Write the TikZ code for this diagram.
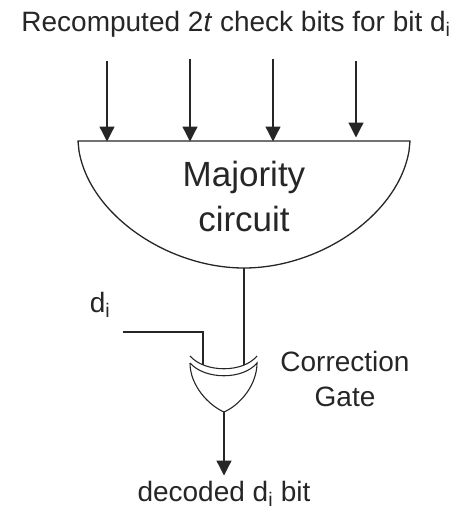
\documentclass[tikz,border=0pt]{standalone}
\usepackage{fontspec}
\setmainfont{Liberation Sans}
\usepackage{tikz}
\usetikzlibrary{arrows.meta}
\tikzset{
	wire/.style={draw=black!85, line width=1.3pt},
	inarrow/.style={wire, -{Triangle[length=15pt,width=15pt]}, shorten >=-0.5pt},
	caption/.style={text=black!85, font=\fontsize{28}{34}\selectfont, inner sep=0pt},
	gate/.style={draw=black!85, line width=1.1pt}
}
\begin{document}
\begin{tikzpicture}[x=1pt,y=-1pt]
		\useasboundingbox (0,0) rectangle (468,508);
		\node[caption] (title) at (236,24) {Recomputed 2\textit{t} check bits for bit d\textsubscript{i}};
		\coordinate (inA) at (107,61);
		\coordinate (inB) at (190,59);
		\coordinate (inC) at (273,59);
		\coordinate (inD) at (356,61);
		\coordinate (tipA) at (107,141);
		\coordinate (tipB) at (190,141);
		\coordinate (tipC) at (273,141);
		\coordinate (tipD) at (356,137);
		\draw[inarrow] (inA) -- (tipA);
		\draw[inarrow] (inB) -- (tipB);
		\draw[inarrow] (inC) -- (tipC);
		\draw[inarrow] (inD) -- (tipD);
		\coordinate (majleft) at (78,141);
		\coordinate (majright) at (410,141);
		\coordinate (majout) at (244,268);
		\draw[wire] (majleft) -- (majright) -- ++(-1,10) .. controls (398,215) and (320,268) .. (majout)
			.. controls (168,268) and (90,215) .. (79,151) -- cycle;
		\node[caption, font=\fontsize{35}{40}\selectfont] (majority) at (244,177) {Majority};
		\node[caption, font=\fontsize{35}{40}\selectfont] (circuit) at (244,219) {circuit};
		\node[caption] (di) at (100,305) {d\textsubscript{i}};
		\coordinate (distart) at (123,332);
		\coordinate (dibend) at (203,332);
		\coordinate (diend) at (203,365);
		\coordinate (majend) at (244,365);
		\draw[wire] (distart) -- (dibend) -- (diend);
		\draw[wire] (majout) -- (majend);
		% gate outline
		\coordinate (gateleft) at (190,363);
		\coordinate (gateright) at (257,363);
		\coordinate (gatetip) at (224,412);
		\draw[gate] (190,356) .. controls (205,373) and (243,373) .. (257,356);
		\draw[gate] (gateleft) .. controls (205,380) and (243,380) .. (gateright)
			.. controls (257,385) and (240,405) .. (gatetip)
			.. controls (208,405) and (190,385) .. (gateleft);
		\coordinate (outend) at (224,475);
		\draw[inarrow] (gatetip) -- (outend);
		\node[caption, align=center, font=\fontsize{28}{35}\selectfont] (gatename) at (345,379) {Correction\\Gate};
		\node[caption] (decoded) at (224,494) {decoded d\textsubscript{i} bit};
	\end{tikzpicture}
\end{document}
